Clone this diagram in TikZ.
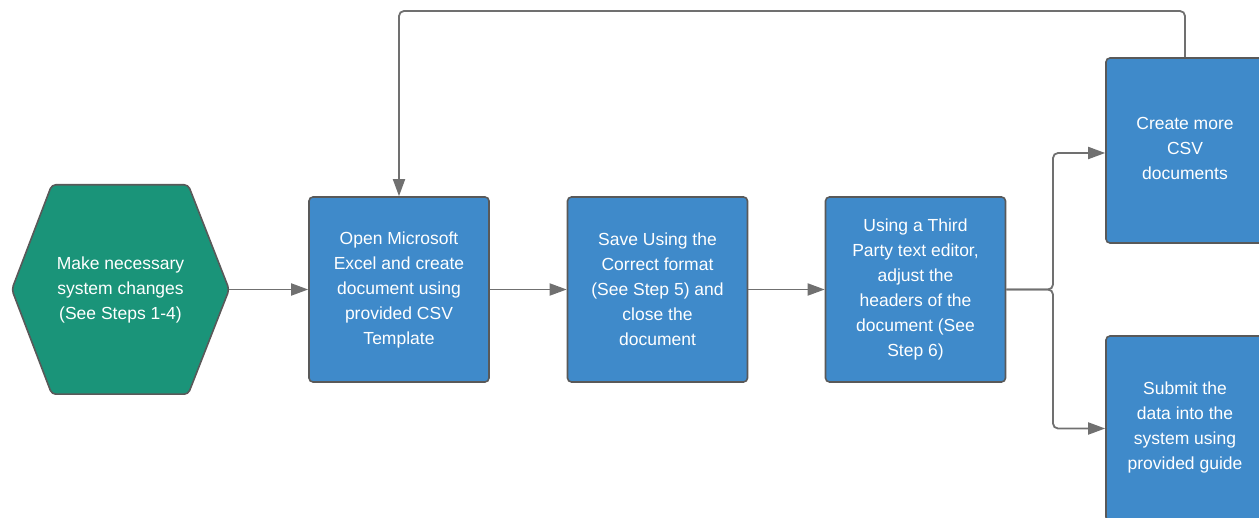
\documentclass[tikz,border=0pt]{standalone}
\usepackage{fontspec}
\setmainfont{Liberation Sans}
\usetikzlibrary{arrows.meta,backgrounds}
\definecolor{stepblue}{HTML}{3F8ACA}
\definecolor{startgreen}{HTML}{1A9479}
\definecolor{edgegray}{HTML}{595959}
\definecolor{linegray}{HTML}{707070}
\begin{document}
\begin{tikzpicture}[x=1pt,y=1pt,
  every node/.style={font=\fontsize{17.5}{25}\selectfont,text=white,align=center},
  stepbox/.style={draw=edgegray,fill=stepblue,line width=1.6pt,rounded corners=4pt,
    minimum width=180pt,minimum height=185pt,inner sep=0pt},
  flowarrow/.style={draw=linegray,line width=1.8pt,rounded corners=5pt,
    -{Triangle[length=17pt,width=12pt]}}]
\useasboundingbox (0,0) rectangle (1259,517);
% start shape
\node[minimum width=217pt,minimum height=209pt,inner sep=0pt] (hex) at (120.5,227.5)
  {Make necessary\\system changes\\(See Steps 1-4)};
\begin{scope}[on background layer]
\fill[startgreen,draw=edgegray,line width=1.6pt,rounded corners=4pt]
  (hex.west) -- ([xshift=40pt]hex.north west) -- ([xshift=-41pt]hex.north east)
  -- (hex.east) -- ([xshift=-41pt]hex.south east) -- ([xshift=40pt]hex.south west) -- cycle;
\end{scope}
% steps
\node[stepbox] (excel) at (399,227.5)
  {Open Microsoft\\Excel and create\\document using\\provided CSV\\Template};
\node[stepbox] (save) at (657.5,227.5)
  {Save Using the\\Correct format\\(See Step 5) and\\close the\\document};
\node[stepbox] (headers) at (915.5,227.5)
  {Using a Third\\Party text editor,\\adjust the\\headers of the\\document (See\\Step 6)};
\node[stepbox,minimum width=158pt] (more) at (1185,366.5)
  {Create more\\CSV\\documents\\[-20pt]};
\node[stepbox,minimum width=158pt] (submit) at (1185,88.5)
  {Submit the\\data into the\\system using\\provided guide\\[-19pt]};
\coordinate (split) at (1053,227.5);
\coordinate (loop) at (1185,506);
% connectors
\draw[flowarrow] (hex.east) -- (excel.west);
\draw[flowarrow] (excel.east) -- (save.west);
\draw[flowarrow] (save.east) -- (headers.west);
\draw[flowarrow] (headers.east) -- (split) |- ([yshift=-2.5pt]more.west);
\draw[flowarrow] (headers.east) -- (split) |- (submit.west);
\draw[flowarrow] (more.north) -- (loop) -| (excel.north);
\end{tikzpicture}
\end{document}
